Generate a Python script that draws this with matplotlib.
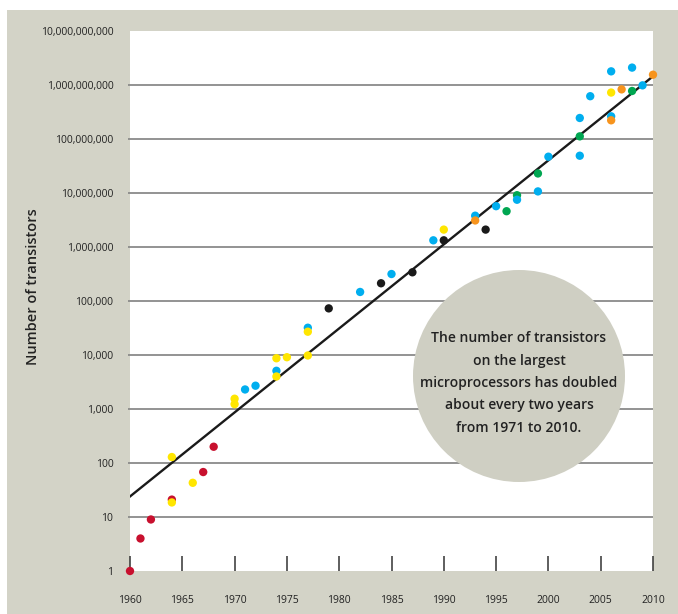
import matplotlib
matplotlib.use("Agg")
import matplotlib.pyplot as plt
from matplotlib.patches import Ellipse

plt.rcParams['font.family'] = ['Open Sans', 'DejaVu Sans']

# data (year, transistor count) per colour group
red_years = [1960, 1961, 1962, 1964, 1967, 1968]
red_vals = [1, 4, 9, 21, 68, 200]

green_years = [1996, 1997, 1999, 2003, 2008]
green_vals = [4.6e6, 9.1e6, 2.3e7, 1.12e8, 7.75e8]

blue_years = [1971, 1972, 1974, 1977, 1982, 1985, 1989, 1993, 1995, 1997,
              1999, 2000, 2003, 2003, 2004, 2006, 2006, 2008, 2009]
blue_vals = [2300, 2700, 5100, 32000, 147000, 316000, 1.33e6, 3.8e6, 5.7e6, 7.5e6,
             1.07e7, 4.7e7, 4.9e7, 2.45e8, 6.2e8, 1.79e9, 2.63e8, 2.1e9, 9.85e8]

yellow_years = [1964, 1964, 1966, 1970, 1970, 1974, 1974, 1975, 1977, 1977, 1990, 2006]
yellow_vals = [18.6, 129, 43, 1550, 1230, 4000, 8700, 9100, 9800, 27000, 2.1e6, 7.25e8]

orange_years = [1993, 2006, 2007, 2010]
orange_vals = [3.1e6, 2.22e8, 8.3e8, 1.55e9]

black_years = [1979, 1984, 1987, 1990, 1994]
black_vals = [73000, 213000, 340000, 1.33e6, 2.1e6]

trend_years = [1960, 2010]
trend_vals = [24, 1.45e9]

x_ticks = [1960, 1965, 1970, 1975, 1980, 1985, 1990, 1995, 2000, 2005, 2010]
y_ticks = [1, 10, 100, 1e3, 1e4, 1e5, 1e6, 1e7, 1e8, 1e9, 1e10]
y_labels = ["1", "10", "100", "1,000", "10,000", "100,000", "1,000,000",
            "10,000,000", "100,000,000", "1,000,000,000", "10,000,000,000"]

note = ("The number of transistors\non the largest\nmicroprocessors has doubled\n"
        "about every two years\nfrom 1971 to 2010.")

W, H = 678, 614
bg = "#d3d3c7"
txt = "#222222"

fig = plt.figure(figsize=(W / 100, H / 100), dpi=100)
fig.patch.set_facecolor("white")

# grey panel behind everything
bg_ax = fig.add_axes([7 / W, 0, 1 - 7 / W, (H - 10) / H], zorder=-5)
bg_ax.set_facecolor(bg)
bg_ax.set_xticks([])
bg_ax.set_yticks([])
for s in bg_ax.spines.values():
    s.set_visible(False)

ax = fig.add_axes([130 / W, (H - 571) / H, 523 / W, 540 / H])
ax.set_facecolor("white")
ax.set_yscale("log")
ax.set_xlim(1960, 2010)
ax.set_ylim(1, 1e10)
for s in ax.spines.values():
    s.set_visible(False)

# decade grid lines
ax.hlines(y_ticks[1:-1], 1959.8, 2010, color="#8a8a8a", lw=1.3, zorder=1, clip_on=False)

# grey circle with the note
pos = ax.get_position()
aw, ah = pos.width * W, pos.height * H
cx, cy, r = 519 - 130, 571 - 376, 106
ax.add_patch(Ellipse((cx / aw, cy / ah), 2 * r / aw, 2 * r / ah, transform=ax.transAxes,
                     facecolor="#cfcfc3", edgecolor="none", zorder=2))
ax.text(cx / aw, (571 - 383) / ah, note, transform=ax.transAxes, ha="center", va="center",
        fontsize=10, fontweight="semibold", color=txt, linespacing=1.75, zorder=3)

ax.plot(trend_years, trend_vals, color="#1a1a1a", lw=1.7, zorder=4)

ms = 36
groups = [
    (red_years, red_vals, "#c8102e"),
    (green_years, green_vals, "#00a651"),
    (blue_years, blue_vals, "#00aeef"),
    (yellow_years, yellow_vals, "#ffe600"),
    (orange_years, orange_vals, "#f7941d"),
    (black_years, black_vals, "#1a1a1a"),
]
for xs, ys, c in groups:
    ax.scatter(xs, ys, s=ms, color=c, edgecolors="none", zorder=5, clip_on=False)

ax.set_xticks(x_ticks)
ax.set_xticklabels([str(x) for x in x_ticks])
ax.set_yticks(y_ticks)
ax.set_yticklabels(y_labels)
ax.minorticks_off()
ax.tick_params(axis="x", direction="in", length=11, width=1.1, color="#333333",
               pad=17, labelsize=7.5, labelcolor=txt)
ax.tick_params(axis="y", length=0, pad=12, labelsize=7.5, labelcolor=txt)

fig.text(33 / W, 1 - 287 / H, "Number of transistors", rotation=90, ha="center",
         va="center", fontsize=10.5, fontweight="semibold", color=txt)

fig.savefig("out.png", dpi=100)
